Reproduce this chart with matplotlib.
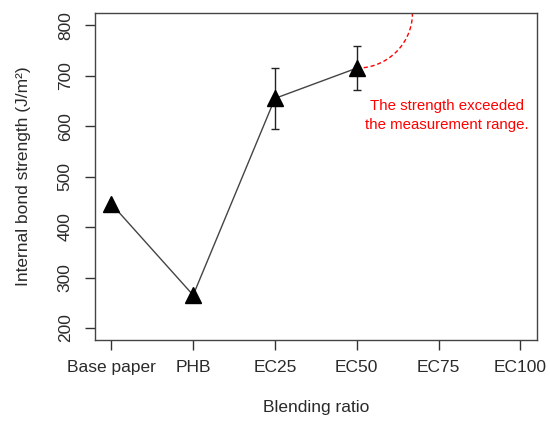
import numpy as np
import matplotlib
matplotlib.use("Agg")
import matplotlib.pyplot as plt

plt.rcParams['font.family'] = ['Liberation Sans', 'DejaVu Sans']

# Data
categories = ["Base paper", "PHB", "EC25", "EC50", "EC75", "EC100"]
strength = [446, 265, 655, 715]          # J/m^2, measured samples
strength_err = [np.nan, np.nan, 60, 43]  # standard deviation
y_ticks = [200, 300, 400, 500, 600, 700, 800]

fig = plt.figure(figsize=(5.5, 4.23), dpi=100)
ax = fig.add_axes([0.1727, 0.196, 0.8033, 0.773])

x_all = np.arange(1, len(categories) + 1)
x = x_all[:len(strength)]

ax.plot(x, strength, color='#444444', lw=1.0, zorder=2)
ax.errorbar(x, strength, yerr=strength_err, fmt='none', ecolor='#222222',
            elinewidth=1.0, capsize=3, capthick=1.0, zorder=3)
ax.plot(x, strength, linestyle='none', marker='^', ms=11.5, color='black',
        zorder=4)

# Axis limits in the style of R's 4% padding
x_lo, x_hi = 1 - 0.04 * 5, 6 + 0.04 * 5
y_lo, y_hi = 200 - 0.04 * 600, 800 + 0.04 * 600
ax.set_xlim(x_lo, x_hi)
ax.set_ylim(y_lo, y_hi)

# Dashed curve rising from EC50 past the top of the scale
t = np.linspace(-np.pi / 2, 0, 100)
cx, cy = x[-1], y_hi
a, b = 0.68, y_hi - strength[-1]
ax.plot(cx + a * np.cos(t), cy + b * np.sin(t), color='#ff0000', lw=1.0,
        linestyle=(0, (3, 2)), zorder=1, clip_on=True)

ax.text(5.1, 621, "The strength exceeded\nthe measurement range.",
        color='#ff0000', ha='center', va='center', fontsize=10.8,
        linespacing=1.4)

ax.set_xticks(x_all)
ax.set_xticklabels(categories)
ax.set_yticks(y_ticks)
ax.set_yticklabels([str(v) for v in y_ticks], rotation=90, va='center')

ax.tick_params(axis='both', direction='out', length=7, width=1.0,
               colors='#333333', labelsize=12.5, labelcolor='#2a2a2a')
ax.tick_params(axis='x', pad=7)
ax.tick_params(axis='y', pad=9)

for s in ax.spines.values():
    s.set_color('#444444')
    s.set_linewidth(1.0)

ax.set_xlabel("Blending ratio", fontsize=12.5, color='#2a2a2a', labelpad=18)
ax.set_ylabel("Internal bond strength (J/m²)", fontsize=12.5, color='#2a2a2a',
              labelpad=19)

fig.savefig("out.png", dpi=100)
